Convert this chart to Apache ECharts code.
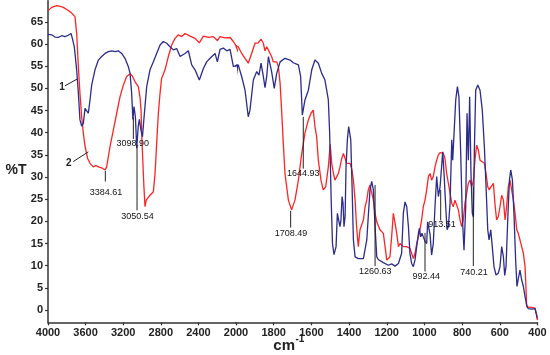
<!DOCTYPE html>
<html><head><meta charset="utf-8">
<script src="https://cdn.jsdelivr.net/npm/echarts@6/dist/echarts.min.js"></script>
<style>html,body{margin:0;padding:0;background:#fff}#c{width:550px;height:355px}</style>
</head><body><div id="c"></div>
<script>
// ---- data (wavenumber cm-1, %T) ----
const blueWn = [4000,3961,3925,3890,3855,3819,3785,3755,3741,3720,3695,3677,3660,3642,3624,3606,3589,3571,3553,3535,3500,3464,3429,3393,3358,3322,3287,3252,3216,3181,3145,3127,3110,3097,3085,3070,3056,3040,3028,3010,2995,2980,2968,2950,2915,2879,2844,2808,2773,2737,2702,2666,2631,2595,2542,2507,2471,2436,2390,2347,2312,2276,2223,2198,2170,2134,2099,2063,2028,2012,1988,1970,1952,1935,1926,1908,1890,1878,1867,1855,1846,1837,1828,1820,1811,1797,1784,1766,1740,1713,1696,1669,1657,1648,1643,1634,1625,1616,1598,1581,1563,1545,1528,1510,1503,1495,1488,1480,1472,1469,1462,1457,1452,1448,1443,1437,1432,1427,1421,1416,1409,1402,1391,1384,1377,1368,1351,1324,1315,1306,1298,1289,1280,1271,1262,1253,1245,1218,1192,1174,1156,1138,1130,1121,1112,1103,1094,1085,1077,1068,1059,1050,1041,1032,1027,1020,1013,1006,997,988,983,979,970,962,953,944,935,926,917,909,903,896,887,880,873,864,855,850,841,834,825,817,808,799,790,781,774,767,760,753,746,740,735,728,717,705,693,682,673,664,657,648,640,631,620,608,599,590,581,574,567,558,549,542,533,525,516,509,500,493,485,475,466,457,449,431,413,408,401];
const blueT = [62.2,62.1,61.6,61.5,61.9,61.7,62.0,62.4,61.3,59.4,54.2,48.9,42.9,41.5,42.1,45.5,45.1,44.4,47.4,50.8,54.2,56.4,57.2,57.9,58.3,58.5,58.3,58.5,57.9,56.8,54.9,53.4,48.9,43.0,45.9,43.5,36.5,41.5,43.0,40.5,39.1,43.0,46.0,50.4,54.2,56.0,57.9,59.8,60.6,60.2,59.4,58.7,59.0,57.2,57.9,58.5,55.3,54.2,51.9,54.5,56.0,56.8,57.9,56.0,58.8,59.1,58.5,58.8,54.9,54.9,55.3,52.7,49.6,43.6,45.1,51.9,53.8,53.0,55.7,52.7,50.2,52.7,57.2,56.8,53.8,50.0,53.4,56.0,56.8,56.4,55.8,55.3,52.7,44.0,43.6,47.4,47.8,49.6,54.2,56.4,55.7,53.4,51.9,47.4,40.0,25.0,15.0,12.5,12.4,14.3,21.8,20.7,21.1,18.8,20.3,25.6,24.1,18.8,21.1,32.3,38.4,41.4,38.4,27.8,15.8,12.0,11.6,11.6,12.0,15.8,21.1,27.1,29.0,27.1,18.8,12.0,11.4,10.7,10.1,10.4,9.9,10.5,10.1,12.8,21.8,24.4,23.3,18.8,12.8,10.5,9.8,11.3,14.3,17.3,18.4,16.5,17.3,16.5,15.5,15.0,19.9,20.3,17.0,12.4,15.0,23.3,30.1,25.6,27.8,32.3,35.7,30.8,23.3,18.1,18.8,24.1,38.4,33.8,41.4,47.4,50.4,48.1,36.1,21.1,13.5,23.3,44.4,33.8,48.1,30.8,21.8,21.0,36.1,49.6,50.8,49.6,45.1,36.9,27.8,18.1,15.8,18.1,14.3,9.8,7.9,8.3,9.8,14.3,12.0,7.8,9.8,20.3,29.3,31.6,29.3,21.8,11.3,5.3,7.5,9.0,7.0,5.3,3.0,1.0,0.3,0.2,0.3,-0.7,-1.9];
const redWn = [4000,3961,3908,3870,3837,3784,3748,3713,3695,3677,3660,3642,3624,3606,3578,3553,3518,3490,3464,3429,3393,3376,3340,3305,3269,3234,3198,3163,3127,3103,3074,3039,3021,3010,3000,2990,2980,2968,2955,2940,2915,2879,2861,2844,2826,2808,2791,2755,2720,2684,2649,2613,2578,2542,2489,2436,2390,2347,2294,2241,2198,2170,2117,2063,2028,2005,1988,1970,1952,1935,1917,1899,1882,1867,1855,1846,1837,1828,1811,1802,1793,1784,1775,1766,1758,1749,1740,1722,1705,1687,1669,1651,1634,1616,1602,1590,1581,1572,1563,1549,1537,1524,1510,1500,1492,1483,1475,1466,1457,1448,1439,1430,1421,1413,1404,1395,1386,1377,1368,1360,1351,1342,1333,1324,1315,1306,1298,1289,1280,1271,1262,1253,1245,1236,1227,1218,1209,1200,1192,1183,1174,1165,1156,1147,1138,1130,1121,1112,1094,1077,1068,1059,1050,1041,1032,1024,1015,1006,997,988,979,970,962,953,944,935,926,917,909,900,891,882,873,864,855,847,838,829,820,811,802,794,785,776,767,758,749,740,732,723,714,705,696,682,673,664,656,647,634,626,617,608,599,590,581,572,564,555,546,537,528,519,510,502,493,484,475,466,457,449,431,413,404,401];
const redT = [67.5,68.3,68.7,68.5,68.3,67.6,67.0,66.2,62.4,54.9,48.9,43.6,39.9,36.9,34.2,33.1,32.3,32.6,32.3,32.1,31.6,32.3,36.9,40.6,44.4,48.1,50.8,52.7,53.3,52.8,51.5,50.4,48.0,45.0,38.0,33.0,28.0,23.3,24.8,24.5,25.9,26.7,30.8,37.6,44.4,48.9,52.3,54.2,57.2,59.8,61.3,62.1,61.7,62.4,61.8,61.3,60.3,61.8,61.5,61.7,60.8,61.7,61.4,61.5,60.6,59.8,59.4,57.9,56.8,55.7,57.9,60.2,60.3,61.1,60.2,58.5,59.4,59.8,57.2,56.0,55.7,56.0,54.9,51.2,45.1,37.6,30.8,24.8,22.6,24.8,29.3,35.4,39.9,42.9,44.4,45.1,41.4,39.1,33.8,29.3,27.1,27.8,32.3,37.4,33.1,30.8,29.3,29.3,30.8,32.3,34.2,35.3,34.2,33.1,33.0,33.1,31.9,29.3,24.8,18.8,14.3,18.1,18.2,20.3,23.3,24.8,27.1,28.2,27.8,24.8,21.8,19.9,19.6,18.1,18.2,17.3,14.3,11.3,10.9,12.0,16.5,21.8,19.6,17.3,14.3,15.0,14.6,14.3,14.3,13.9,12.8,11.6,12.8,15.0,16.5,18.1,20.3,23.3,24.8,27.1,30.1,30.8,29.3,30.1,32.3,33.8,35.0,35.5,35.7,35.4,34.2,30.8,28.6,26.3,24.1,23.3,24.8,24.4,22.6,20.3,18.8,20.3,24.1,26.3,28.6,29.3,27.8,29.3,33.8,37.2,36.1,33.8,33.5,33.1,30.8,27.8,27.1,27.8,28.6,24.1,20.3,21.1,23.3,25.9,24.8,20.3,23.3,27.8,29.3,29.0,24.8,21.8,18.1,17.3,17.0,14.3,12.8,9.8,0.7,0.7,0.6,0.4,-1.1,-2.3];

const yTicks = [0,5,10,15,20,25,30,35,40,45,50,55,60,65];
const xTicksHigh = [4000,3600,3200,2800,2400];
const xTicksLow = [2000,1800,1600,1400,1200,1000,800,600,400];

// peak annotations: label, leader line x and its two %T ends, text centre
const peakNotes = [
  {label:'3384.61', x:3390, from:31.4, to:29.0, tx:3383, ty:26.6},
  {label:'3098.90', x:3092, from:43.5, to:38.6, tx:3098, ty:37.5},
  {label:'3050.54', x:3053, from:37.0, to:22.5, tx:3048, ty:21.2},
  {label:'1708.49', x:1710, from:22.4, to:18.6, tx:1708, ty:17.3},
  {label:'1644.93', x:1643, from:43.6, to:31.9, tx:1643, ty:30.8},
  {label:'1260.63', x:1262, from:28.2, to:9.9, tx:1261, ty:8.6},
  {label:'992.44', x:997, from:17.4, to:8.7, tx:990, ty:7.5},
  {label:'913.51', x:913.7, from:27.1, to:20.2, tx:907, ty:19.2},
  {label:'740.21', x:740.6, from:27.8, to:9.9, tx:737, ty:8.4}
];
const curveTags = [
  {label:'1', from:[3819,50.6], to:[3691,52.1], at:[3851,50.2]},
  {label:'2', from:[3731,33.5], to:[3571,35.7], at:[3779,33.1]}
];

const BLUE = '#2c2c8c', RED = '#ff2424', AX = '#333';
const FONT = "'Liberation Sans', Arial, sans-serif";
const zip = (a, b) => a.map((v, i) => [v, b[i]]);

const chart = echarts.init(document.getElementById('c'), null, {renderer: 'canvas'});
const yMin = -2.8, yMax = 69.8;
const commonX = (gi, min, max, ticks) => ({
  type: 'value', gridIndex: gi, min, max, inverse: true,
  axisLine: {show: true, onZero: false, lineStyle: {color: AX, width: 1.5}},
  axisTick: {show: true, customValues: ticks, length: 3, lineStyle: {color: AX, width: 1.2}},
  axisLabel: {customValues: ticks, formatter: v => String(v), fontSize: 11, fontWeight: 'bold', color: '#222', fontFamily: FONT, margin: 5},
  splitLine: {show: false}
});
chart.setOption({
  animation: false,
  backgroundColor: '#fff',
  grid: [
    {left: 48, top: 0.7, width: 188, height: 321.7, containLabel: false, outerBoundsMode: 'none'},
    {left: 236, top: 0.7, width: 301.5, height: 321.7, containLabel: false, outerBoundsMode: 'none'}
  ],
  xAxis: [commonX(0, 2000, 4000, xTicksHigh), commonX(1, 400, 2000, xTicksLow)],
  yAxis: [
    {type: 'value', gridIndex: 0, min: yMin, max: yMax,
     axisLine: {show: true, onZero: false, lineStyle: {color: AX, width: 1.5}},
     axisTick: {show: true, customValues: yTicks, length: 3, lineStyle: {color: AX, width: 1.2}},
     axisLabel: {customValues: yTicks, formatter: v => String(v), fontSize: 11, fontWeight: 'bold', color: '#222', fontFamily: FONT, margin: 5},
     splitLine: {show: false}},
    {type: 'value', gridIndex: 1, min: yMin, max: yMax, show: false, splitLine: {show: false}}
  ],
  series: [0, 1].flatMap(gi => [
    {type: 'line', xAxisIndex: gi, yAxisIndex: gi, data: zip(redWn, redT), showSymbol: false,
     clip: true, lineStyle: {color: RED, width: 1.3}, itemStyle: {color: RED}},
    {type: 'line', xAxisIndex: gi, yAxisIndex: gi, data: zip(blueWn, blueT), showSymbol: false,
     clip: true, lineStyle: {color: BLUE, width: 1.3}, itemStyle: {color: BLUE}}
  ])
});

const px = (w, v) => chart.convertToPixel({gridIndex: w > 2000 ? 0 : 1}, [w, v]);
const g = [];
peakNotes.forEach(n => {
  const a = px(n.x, n.from), b = px(n.x, n.to), t = px(n.tx, n.ty);
  g.push({type: 'line', shape: {x1: a[0], y1: a[1], x2: b[0], y2: b[1]}, style: {stroke: '#222', lineWidth: 1}, z: 10});
  g.push({type: 'text', x: t[0], y: t[1], style: {text: n.label, font: '9px ' + FONT, fill: '#111', align: 'center', verticalAlign: 'middle'}, z: 11});
});
curveTags.forEach(n => {
  const a = px(n.from[0], n.from[1]), b = px(n.to[0], n.to[1]), t = px(n.at[0], n.at[1]);
  g.push({type: 'line', shape: {x1: a[0], y1: a[1], x2: b[0], y2: b[1]}, style: {stroke: '#222', lineWidth: 1}, z: 10});
  g.push({type: 'text', x: t[0], y: t[1], style: {text: n.label, font: 'bold 10px ' + FONT, fill: '#222', align: 'center', verticalAlign: 'middle'}, z: 11});
});
g.push({type: 'text', x: 16, y: 170, style: {text: '%T', font: 'bold 14px ' + FONT, fill: '#222', align: 'center', verticalAlign: 'middle'}});
g.push({type: 'text', x: 295, y: 346, style: {text: 'cm', font: 'bold 15px ' + FONT, fill: '#222', align: 'right', verticalAlign: 'middle'}});
g.push({type: 'text', x: 295.5, y: 339, style: {text: '-1', font: 'bold 10px ' + FONT, fill: '#222', align: 'left', verticalAlign: 'middle'}});
chart.setOption({graphic: g});
</script></body></html>
